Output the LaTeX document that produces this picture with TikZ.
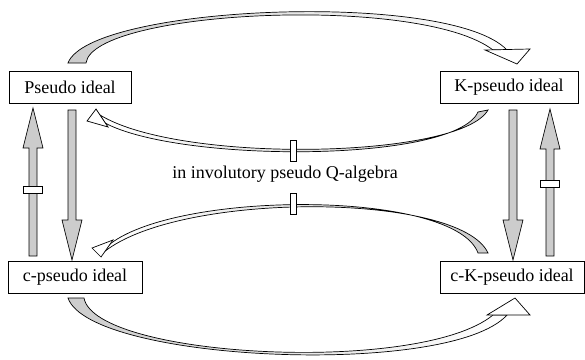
\documentclass[tikz,border=0pt]{standalone}
\usepackage{fontspec}
\setmainfont{Liberation Serif}
\usetikzlibrary{calc}
% straight block arrow, vertical, from #1 (tail) to #2 (tip)
\newcommand{\blockarrow}[2]{%
\draw[blockarr] let \p1=(#1), \p2=(#2), \p3=($(#2)!40pt!(#1)$) in
  (\x1-4pt,\y1) -- (\x1-4pt,\y3) -- (\x1-10pt,\y3) -- (\x1,\y2) -- (\x1+10pt,\y3) -- (\x1+4pt,\y3) -- (\x1+4pt,\y1) -- cycle;}

\begin{document}
\begin{tikzpicture}[x=1pt,y=-1pt]
\def\fillcol{gray!40}
\def\linecol{black}

\tikzset{every node/.style={font=\fontsize{18}{21}\selectfont, inner sep=0pt, outer sep=0pt}}
\tikzset{idealbox/.style={draw=\linecol, fill=white, line width=.8pt, minimum height=32pt}}
\tikzset{blockarr/.style={draw=\linecol, line width=.7pt, fill=\fillcol, line join=miter}}
\tikzset{bandright/.style={draw=\linecol, line width=.7pt, left color=\fillcol, middle color=white, right color=white}}
\tikzset{bandleft/.style={draw=\linecol, line width=.7pt, left color=white, middle color=white, right color=\fillcol}}
\tikzset{headarr/.style={draw=\linecol, line width=.7pt, fill=white, line join=miter}}
\tikzset{tickbox/.style={draw=\linecol, line width=.7pt, fill=white}}
\useasboundingbox (0,0) rectangle (585,359);
%%%%%%% ideals
\node(pi)at(70,87)[idealbox,minimum width=122pt]{Pseudo ideal};
\node(kpi)at(509,87)[idealbox,minimum width=138pt]{K-pseudo ideal};
\node(cpi)at(75,277)[idealbox,minimum width=134pt]{c-pseudo ideal};
\node(ckpi)at(512,277)[idealbox,minimum width=144pt]{c-K-pseudo ideal};
\node(alg)at(285,174){in involutory pseudo Q-algebra};

%%%%%%% straight arrows
\coordinate(lu1)at($(cpi.north west)+(25,-5)$);
\coordinate(lu2)at($(pi.south west)+(24,5)$);
\coordinate(ld1)at($(pi.south west)+(63,7)$);
\coordinate(ld2)at($(cpi.north west)+(64,-1)$);
\coordinate(rd1)at($(kpi.south west)+(73,7)$);
\coordinate(rd2)at($(ckpi.north west)+(73,-1)$);
\coordinate(ru1)at($(ckpi.north west)+(110,-5)$);
\coordinate(ru2)at($(kpi.south west)+(110,6)$);
\blockarrow{lu1}{lu2}
\blockarrow{ld1}{ld2}
\blockarrow{rd1}{rd2}
\blockarrow{ru1}{ru2}
\node(lmark)at($(lu1)!.446!(lu2)$)[tickbox,minimum width=19pt,minimum height=7pt]{};
\node(rmark)at($(ru1)!.49!(ru2)$)[tickbox,minimum width=19pt,minimum height=7pt]{};

%%%%%%% Pseudo ideal -> K-pseudo ideal
\coordinate(t1)at($(pi.north)+(-2,-8)$);
\coordinate(t2)at($(pi.north)+(16,-8)$);
\coordinate(th)at($(kpi.north)+(8,-7)$);
\path[bandright] (t1) .. controls (90,5) and (450,-10) .. ($(th)+(-10,-14)$) -- ($(th)+(-24,-14)$) .. controls (420,-6) and (93,10) .. (t2) -- cycle;
\draw[headarr] ($(th)+(-32,-14)$) -- ($(th)+(13,-15)$) -- (th) -- cycle;

%%%%%%% c-pseudo ideal -> c-K-pseudo ideal
\coordinate(b1)at($(cpi.south)+(-7,5)$);
\coordinate(b2)at($(cpi.south)+(9,5)$);
\coordinate(bh)at($(ckpi.south)+(3,5)$);
\path[bandright] (b1) .. controls (90,362) and (450,378) .. ($(bh)+(-8,17)$) -- ($(bh)+(-22,17)$) .. controls (420,375) and (95,358) .. (b2) -- cycle;
\draw[headarr] ($(bh)+(-28,17)$) -- ($(bh)+(15,17)$) -- (bh) -- cycle;

%%%%%%% K-pseudo ideal -> Pseudo ideal
\coordinate(u1)at($(kpi.south)+(-31,9)$);
\coordinate(u2)at($(kpi.south)+(-21,7)$);
\coordinate(uh)at($(pi.south)+(17,18)$);
\path[bandleft] (u1) .. controls (455,163) and (180,163) .. ($(pi.south)+(35,20)$) -- ($(pi.south)+(30,12)$) .. controls (180,164) and (460,159) .. (u2) -- cycle;
\draw[headarr] ($(pi.south)+(26,6)$) -- ($(pi.south)+(38,24)$) -- (uh) -- cycle;
\node(umark)at($(alg)+(8.5,-23.5)$)[tickbox,minimum width=6pt,minimum height=21pt]{};

%%%%%%% c-K-pseudo ideal -> c-pseudo ideal
\coordinate(w1)at($(ckpi.north)+(-34,-8)$);
\coordinate(w2)at($(ckpi.north)+(-24,-8)$);
\coordinate(wh)at($(cpi.north)+(17,-13)$);
\path[bandleft] (w1) .. controls (455,190) and (180,190) .. ($(cpi.north)+(35,-17)$) -- ($(cpi.north)+(29,-9)$) .. controls (180,191) and (460,192) .. (w2) -- cycle;
\draw[headarr] ($(cpi.north)+(26,-4)$) -- ($(cpi.north)+(38,-21)$) -- (wh) -- cycle;
\node(wmark)at($(alg)+(8.5,30)$)[tickbox,minimum width=6pt,minimum height=21pt]{};
\end{tikzpicture}
\end{document}
